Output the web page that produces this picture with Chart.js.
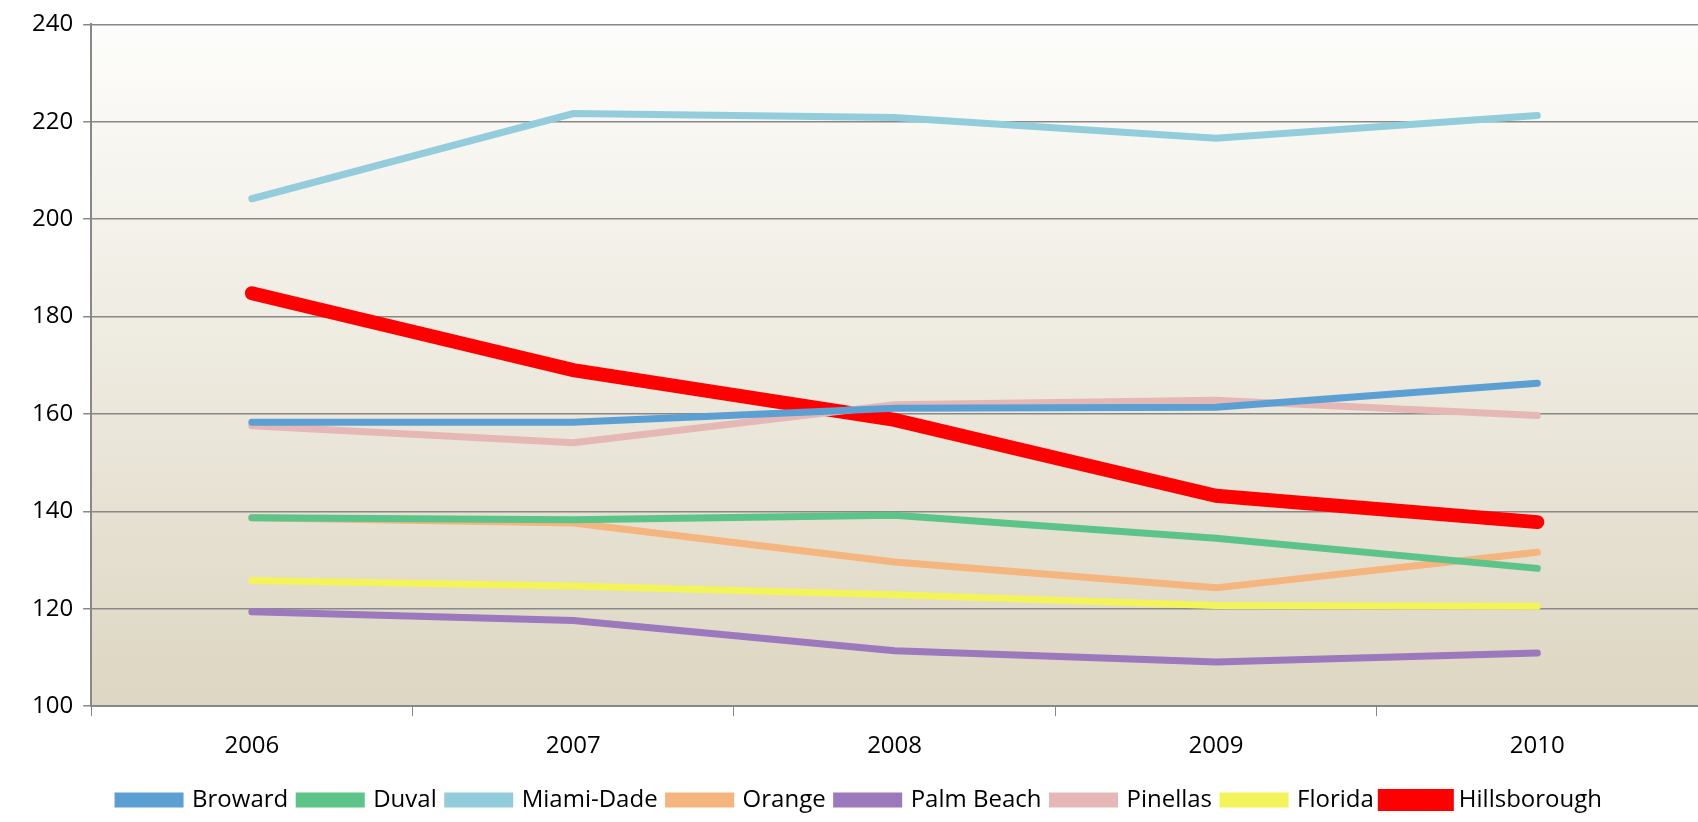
<!DOCTYPE html>
<html>
<head>
<meta charset="utf-8">
<script src="https://cdn.jsdelivr.net/npm/chart.js@4"></script>
<style>
  html, body { margin: 0; padding: 0; background: #fff; }
  #wrap { width: 1698px; height: 822px; }
</style>
</head>
<body>
<div id="wrap"><canvas id="c"></canvas></div>
<script>
// 数据
const years = ['2006', '2007', '2008', '2009', '2010'];
const broward = [158.3, 158.3, 161.2, 161.4, 166.3];
const duval = [138.7, 138.3, 139.2, 134.5, 128.3];
const miamiDade = [204.2, 221.7, 220.9, 216.6, 221.3];
const orange = [138.7, 137.6, 129.6, 124.3, 131.6];
const palmBeach = [119.4, 117.6, 111.4, 109.1, 110.9];
const pinellas = [157.6, 154.1, 161.9, 162.8, 159.7];
const florida = [125.8, 124.7, 122.9, 120.7, 120.5];
const hillsborough = [184.8, 169.0, 158.8, 143.2, 137.8];

function ds(label, data, color, width) {
  return { label: label, data: data, borderColor: color, backgroundColor: color,
    borderWidth: width, pointRadius: 0, tension: 0, borderCapStyle: 'round' };
}

// 绘图区渐变背景
const bgPlugin = {
  id: 'bg',
  beforeDraw(chart) {
    const a = chart.chartArea, ctx = chart.ctx;
    const g = ctx.createLinearGradient(0, a.top, 0, a.bottom);
    g.addColorStop(0, '#fdfdfb');
    g.addColorStop(1, '#ddd6c2');
    ctx.save();
    ctx.fillStyle = g;
    ctx.fillRect(a.left, a.top, a.right - a.left, a.bottom - a.top);
    ctx.restore();
  }
};

const font = { family: '"Open Sans", sans-serif', size: 24 };

new Chart(document.getElementById('c'), {
  type: 'line',
  data: {
    labels: years,
    datasets: [
      ds('Broward', broward, '#5b9fd3', 7),
      ds('Duval', duval, '#5cc488', 7),
      ds('Miami-Dade', miamiDade, '#93cddb', 7),
      ds('Orange', orange, '#f4b57e', 7),
      ds('Palm Beach', palmBeach, '#9c78bd', 7),
      ds('Pinellas', pinellas, '#e5b8b5', 7),
      ds('Florida', florida, '#f3f35a', 7),
      ds('Hillsborough', hillsborough, '#ff0000', 14)
    ]
  },
  options: {
    responsive: true,
    maintainAspectRatio: false,
    animation: false,
    layout: { padding: { left: 22, right: 0, top: 0, bottom: 0 } },
    plugins: {
      legend: {
        position: 'bottom',
        labels: {
          boxWidth: 62, boxHeight: 8, padding: 11,
          color: '#000',
          font: font
        }
      },
      tooltip: { enabled: false }
    },
    scales: {
      x: {
        offset: true,
        grid: { display: true, drawOnChartArea: false, offset: true, color: '#888', tickLength: 10 },
        border: { color: '#888', width: 2 },
        ticks: { color: '#000', font: font, padding: 16 }
      },
      y: {
        min: 100, max: 240,
        ticks: { stepSize: 20, color: '#000', font: font, padding: 10 },
        grid: { color: '#888', lineWidth: 1.5, tickLength: 8 },
        border: { color: '#888', width: 2 }
      }
    }
  },
  plugins: [bgPlugin]
});
</script>
</body>
</html>
